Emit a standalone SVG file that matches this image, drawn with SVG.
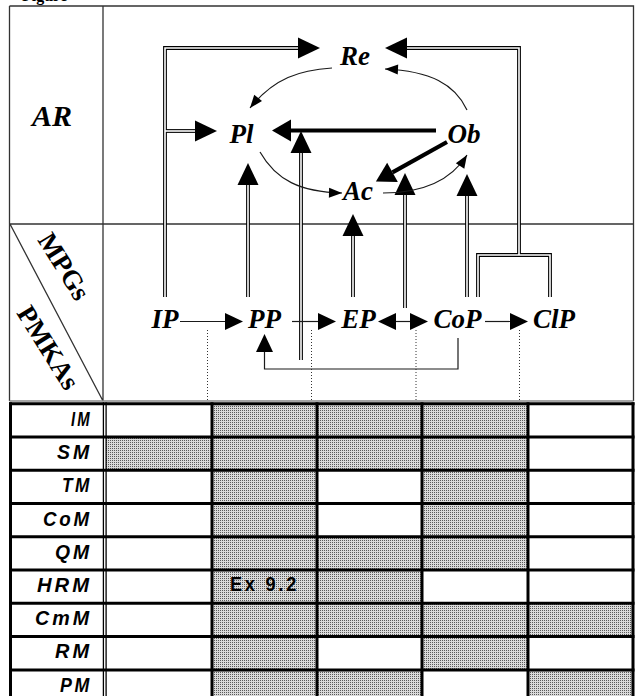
<svg xmlns="http://www.w3.org/2000/svg" width="636" height="696" viewBox="0 0 636 696">
<style>
.frame{fill:none;stroke:#333;stroke-width:1.3}
.node{font-family:"Liberation Serif","Times New Roman",serif;font-weight:bold;font-style:italic;font-size:27px;fill:#000;text-anchor:middle}
.hdr{font-family:"Liberation Serif","Times New Roman",serif;font-weight:bold;font-size:27px;fill:#000}
.row{font-family:"Liberation Sans",Arial,sans-serif;font-weight:bold;font-style:italic;font-size:20px;letter-spacing:3px;fill:#000}
.cell{font-family:"Liberation Sans",Arial,sans-serif;font-weight:bold;font-size:20px;letter-spacing:3px;fill:#000}
.dblB{fill:none;stroke:#000;stroke-width:3.8;stroke-linejoin:miter;stroke-linecap:butt}
.dblW{fill:none;stroke:#fff;stroke-width:1.6;stroke-linejoin:miter;stroke-linecap:butt}
.thin{fill:none;stroke:#1a1a1a;stroke-width:1.2}
.thick{fill:none;stroke:#000;stroke-width:4.2}
.dot{fill:none;stroke:#333;stroke-width:1;stroke-dasharray:1 2}
.tline{stroke:#000;stroke-width:3}
.shade{fill:url(#dots)}
</style>
<defs>
<pattern id="dots" width="2" height="2" patternUnits="userSpaceOnUse">
<rect width="2" height="2" fill="#dadada"/>
<rect width="1" height="1" fill="#5a5a5a"/>
</pattern>
<marker id="mDbl" markerUnits="userSpaceOnUse" markerWidth="22" markerHeight="21" refX="0" refY="10.5" orient="auto" overflow="visible"><path d="M0,0 L22,10.5 L0,21 z" fill="#000"/></marker>
<marker id="mThick" markerUnits="userSpaceOnUse" markerWidth="19" markerHeight="22" refX="0" refY="11" orient="auto" overflow="visible"><path d="M0,0 L19,11 L0,22 z" fill="#000"/></marker>
<marker id="mThin" markerUnits="userSpaceOnUse" markerWidth="18" markerHeight="17" refX="0" refY="8.5" orient="auto-start-reverse" overflow="visible"><path d="M0,0 L18,8.5 L0,17 z" fill="#000"/></marker>
<marker id="mCurve" markerUnits="userSpaceOnUse" markerWidth="13" markerHeight="10" refX="13" refY="5" orient="auto" overflow="visible"><path d="M0,0 L13,5 L0,10 z" fill="#000"/></marker>
</defs>
<rect width="636" height="696" fill="#fff"/>
<text x="22" y="0.5" style="font-family:'Liberation Serif',serif;font-weight:bold;font-size:16px">Figure</text>

<g id="frame">
<path class="frame" d="M9.5,6 H633.5 V401 M9.5,6 V401 M103,6 V401 M9.5,224 H633.5 M10,224 L103,401"/>
<line x1="9.5" y1="401" x2="633.5" y2="401" stroke="#888" stroke-width="1.5"/>
<text class="hdr" x="52" y="126" text-anchor="middle" style="font-style:italic;font-size:30px">AR</text>
<text class="hdr" transform="translate(37,240) rotate(58)">MPGs</text>
<text class="hdr" transform="translate(16,313) rotate(58)">PMKAs</text>
</g>

<g id="dotted">
<path class="dot" d="M207.5,330 V401 M311.5,330 V401 M416,330 V401 M519.5,330 V401"/>
</g>

<g id="connectors">
<path class="dblB" d="M165,297 V48 H298" marker-end="url(#mDbl)"/>
<path class="dblB" d="M165,131 H195" marker-end="url(#mDbl)"/>
<path class="dblB" d="M519,255 V48 H407" marker-end="url(#mDbl)"/>
<path class="dblB" d="M478,297 V255 H550 V297"/>
<path class="dblB" d="M248,297 V185" marker-end="url(#mDbl)"/>
<path class="dblB" d="M301,360 V153" marker-end="url(#mDbl)"/>
<path class="dblB" d="M353,297 V236" marker-end="url(#mDbl)"/>
<path class="dblB" d="M405,308 V195" marker-end="url(#mDbl)"/>
<path class="dblB" d="M467,297 V196" marker-end="url(#mDbl)"/>
<path class="dblW" d="M165,297 V48 H298"/>
<path class="dblW" d="M165,131 H195"/>
<path class="dblW" d="M519,255 V48 H407"/>
<path class="dblW" d="M478,297 V255 H550 V297"/>
<path class="dblW" d="M248,297 V185"/>
<path class="dblW" d="M301,360 V153"/>
<path class="dblW" d="M353,297 V236"/>
<path class="dblW" d="M405,308 V195"/>
<path class="dblW" d="M467,297 V196"/>

<path class="thick" d="M436,130.5 H291" marker-end="url(#mThick)"/>
<path class="thick" d="M447,142 L392.5,172.3" marker-end="url(#mThick)"/>

<path class="thin" d="M180,321.5 H225" marker-end="url(#mThin)"/>
<path class="thin" d="M292,321.5 H318" marker-end="url(#mThin)"/>
<path class="thin" d="M396,321.5 H410" marker-start="url(#mThin)" marker-end="url(#mThin)"/>
<path class="thin" d="M485,321.5 H510" marker-end="url(#mThin)"/>
<path class="thin" d="M458,338 V369 H264.5 V352" marker-end="url(#mThin)"/>

<path class="thin" d="M332,68 C300,70 274,78 250,108" marker-end="url(#mCurve)"/>
<path class="thin" d="M467,110 C455,84 430,71 385,69" marker-end="url(#mCurve)"/>
<path class="thin" d="M260,152 C276,180 300,192 342,193" marker-end="url(#mCurve)"/>
<path class="thin" d="M383,193 C420,193 450,182 467,155" marker-end="url(#mCurve)"/>
</g>

<g id="Re"><text class="node" x="355" y="65">Re</text></g>
<g id="Pl"><text class="node" x="241.5" y="143">Pl</text></g>
<g id="Ob"><text class="node" x="464" y="143">Ob</text></g>
<g id="Ac"><text class="node" x="358" y="200">Ac</text></g>
<g id="IP"><text class="node" x="165" y="328">IP</text></g>
<g id="PP"><text class="node" x="264.5" y="328">PP</text></g>
<g id="EP"><text class="node" x="358.5" y="328">EP</text></g>
<g id="CoP"><text class="node" x="457.5" y="328">CoP</text></g>
<g id="ClP"><text class="node" x="554" y="328">ClP</text></g>

<g id="table">
<rect class="shade" x="212" y="403.7" width="316" height="33.3"/>
<rect class="shade" x="106" y="437" width="422" height="33.3"/>
<rect class="shade" x="212" y="470.2" width="105" height="66.6"/>
<rect class="shade" x="422" y="470.2" width="106" height="66.6"/>
<rect class="shade" x="212" y="536.8" width="316" height="33.3"/>
<rect class="shade" x="212" y="570" width="210" height="33.3"/>
<rect class="shade" x="212" y="603.3" width="421" height="33.3"/>
<rect class="shade" x="212" y="636.6" width="105" height="33.3"/>
<rect class="shade" x="422" y="636.6" width="106" height="33.3"/>
<rect class="shade" x="212" y="669.9" width="210" height="30"/>
<rect class="shade" x="528" y="669.9" width="105" height="30"/>
<g class="tline">
<line x1="9" y1="403.7" x2="634.5" y2="403.7"/>
<line x1="9" y1="437" x2="634.5" y2="437"/>
<line x1="9" y1="470.2" x2="634.5" y2="470.2"/>
<line x1="9" y1="503.5" x2="634.5" y2="503.5"/>
<line x1="9" y1="536.8" x2="634.5" y2="536.8"/>
<line x1="9" y1="570" x2="634.5" y2="570"/>
<line x1="9" y1="603.3" x2="634.5" y2="603.3"/>
<line x1="9" y1="636.6" x2="634.5" y2="636.6"/>
<line x1="9" y1="669.9" x2="634.5" y2="669.9"/>
<line x1="10.5" y1="402.2" x2="10.5" y2="696"/>
<line x1="212" y1="402.2" x2="212" y2="696"/>
<line x1="317" y1="402.2" x2="317" y2="696"/>
<line x1="422" y1="402.2" x2="422" y2="696"/>
<line x1="528" y1="402.2" x2="528" y2="696"/>
<line x1="633" y1="402.2" x2="633" y2="696"/>
</g>
<line x1="103.4" y1="402.2" x2="103.4" y2="696" stroke="#000" stroke-width="1.3"/>
<line x1="106.1" y1="402.2" x2="106.1" y2="696" stroke="#000" stroke-width="1.3"/>
<text class="row" x="71" y="425.7" textLength="21" lengthAdjust="spacingAndGlyphs">IM</text>
<text class="row" x="57" y="459" textLength="35" lengthAdjust="spacingAndGlyphs">SM</text>
<text class="row" x="62" y="492.2" textLength="30" lengthAdjust="spacingAndGlyphs">TM</text>
<text class="row" x="43" y="525.5" textLength="49" lengthAdjust="spacingAndGlyphs">CoM</text>
<text class="row" x="55" y="558.6" textLength="37" lengthAdjust="spacingAndGlyphs">QM</text>
<text class="row" x="37" y="591.5" textLength="55" lengthAdjust="spacingAndGlyphs">HRM</text>
<text class="row" x="35" y="625" textLength="57" lengthAdjust="spacingAndGlyphs">CmM</text>
<text class="row" x="55" y="658.3" textLength="37" lengthAdjust="spacingAndGlyphs">RM</text>
<text class="row" x="60" y="691.5" textLength="32" lengthAdjust="spacingAndGlyphs">PM</text>
<text class="cell" x="230" y="590.5" textLength="69" lengthAdjust="spacingAndGlyphs">Ex 9.2</text>
</g>
</svg>
